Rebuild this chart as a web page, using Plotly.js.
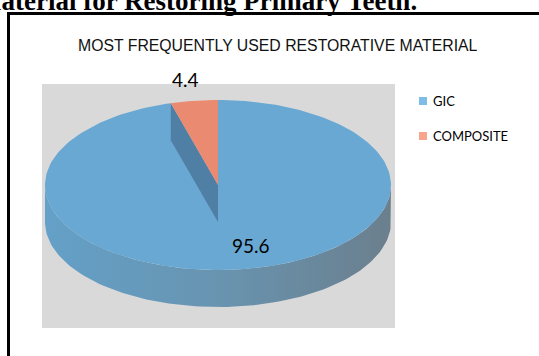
<!DOCTYPE html>
<html>
<head>
<meta charset="utf-8">
<script src="https://cdn.plot.ly/plotly-3.0.1.min.js"></script>
<style>html,body{margin:0;padding:0;background:#fff;}#chart{width:539px;height:356px;}</style>
</head>
<body>
<div id="chart"></div>
<script>
// ---- data ----
const categories = ['GIC', 'COMPOSITE'];
const values = [95.6, 4.4];
const chartTitle = 'MOST FREQUENTLY USED RESTORATIVE MATERIAL';
const pageHeading = 'Material for Restoring Primary Teeth.';

// ---- styles / geometry (pixel-like data units) ----
const topColors = ['#68a8d3', '#ea8a71'];
const legendColors = ['#7dbde7', '#f8a58b'];
const wallColor = '#4f7fa4';
const cx = 218, cy = 185, rx = 173, ry = 85, depth = 37;

function pt(deg, k, dy) {
  const r = deg * Math.PI / 180;
  return [cx + k * rx * Math.cos(r), cy - k * ry * Math.sin(r) + (dy || 0)];
}
function arc(a0, a1, dy) {
  const n = Math.max(8, Math.ceil(Math.abs(a1 - a0) / 1.5));
  const out = [];
  for (let i = 0; i <= n; i++) out.push(pt(a0 + (a1 - a0) * i / n, 1, dy));
  return out;
}

const total = values.reduce((a, b) => a + b, 0);
// composite starts at 12 o'clock going counter-clockwise, GIC takes the rest
const compSpan = values[1] / total * 360;
const compStart = 90, compEnd = 90 + compSpan;
const gicStart = compEnd, gicEnd = 450;

const traces = [];
function poly(points, color, extra) {
  const t = Object.assign({
    x: points.map(p => p[0]), y: points.map(p => p[1]),
    mode: 'lines', fill: 'toself', fillcolor: color,
    line: {width: 0, color: color}, hoverinfo: 'skip', showlegend: false
  }, extra || {});
  traces.push(t);
}

// side band (front half)
const sideTop = arc(180, 360, 0);
const sideBot = arc(360, 180, depth);
poly(sideTop.concat(sideBot), '#6b97b5', {
  fillgradient: {type: 'horizontal', colorscale: [[0, '#64a0c8'], [0.5, '#6894b0'], [1, '#6b7f8d']]}
});
// GIC top
poly([[cx, cy]].concat(arc(gicStart, gicEnd, 0)), topColors[0]);
// wall visible under the composite edge
const o1 = pt(compEnd, 1, 0), o2 = pt(compEnd, 1, depth);
poly([[cx, cy], o1, o2, [cx, cy + depth]], wallColor);
// composite top
poly([[cx, cy]].concat(arc(compStart, compEnd, 0)), topColors[1]);

// legend swatches
traces.push({
  x: [423, 423], y: [101, 136], mode: 'markers',
  marker: {symbol: 'square', size: 8, color: legendColors},
  hoverinfo: 'skip', showlegend: false
});

const mids = [(gicStart + gicEnd) / 2, (compStart + compEnd) / 2];
const ks = [0.7, 1.2];
const offs = [[16, 2], [-4, -4]];
const annotations = values.map((v, i) => {
  const p = pt(mids[i], ks[i], 0);
  return {x: p[0] + offs[i][0], y: p[1] + offs[i][1], text: v.toFixed(1), showarrow: false,
    font: {family: 'Lato, Carlito, sans-serif', size: 19, color: '#000'}, xanchor: 'center', yanchor: 'middle'};
});
categories.forEach((c, i) => {
  annotations.push({x: 431, y: [101, 136][i], text: c, showarrow: false, xanchor: 'left', yanchor: 'middle',
    font: {family: 'Lato, Carlito, sans-serif', size: 13, color: '#000'}});
});
annotations.push({x: 278, y: 45, text: chartTitle, showarrow: false, xanchor: 'center', yanchor: 'middle',
  font: {family: 'Liberation Sans, Arial, sans-serif', size: 15.8, color: '#111'}});
annotations.push({xref: 'paper', yref: 'paper', x: 419 / 539, y: 1 - 1 / 356, text: '<b>' + pageHeading + '</b>',
  showarrow: false, xanchor: 'right', yanchor: 'middle',
  font: {family: 'Liberation Serif, Times New Roman, serif', size: 27, color: '#000'}});

const layout = {
  width: 539, height: 356,
  margin: {l: 0, r: 0, t: 0, b: 0},
  paper_bgcolor: '#fff', plot_bgcolor: '#fff',
  xaxis: {range: [0, 539], visible: false, fixedrange: true},
  yaxis: {range: [356, 0], visible: false, fixedrange: true},
  showlegend: false,
  shapes: [
    {type: 'rect', xref: 'x', yref: 'y', x0: 42, x1: 395, y0: 84, y1: 328, fillcolor: '#d9d9d9', line: {width: 0}, layer: 'below'},
    {type: 'rect', xref: 'x', yref: 'y', x0: 8.5, x1: 560, y0: 13.5, y1: 420, fillcolor: 'rgba(0,0,0,0)', line: {width: 3, color: '#000'}}
  ],
  annotations: annotations
};

Plotly.newPlot('chart', traces, layout, {staticPlot: true, displayModeBar: false});
</script>
</body>
</html>
